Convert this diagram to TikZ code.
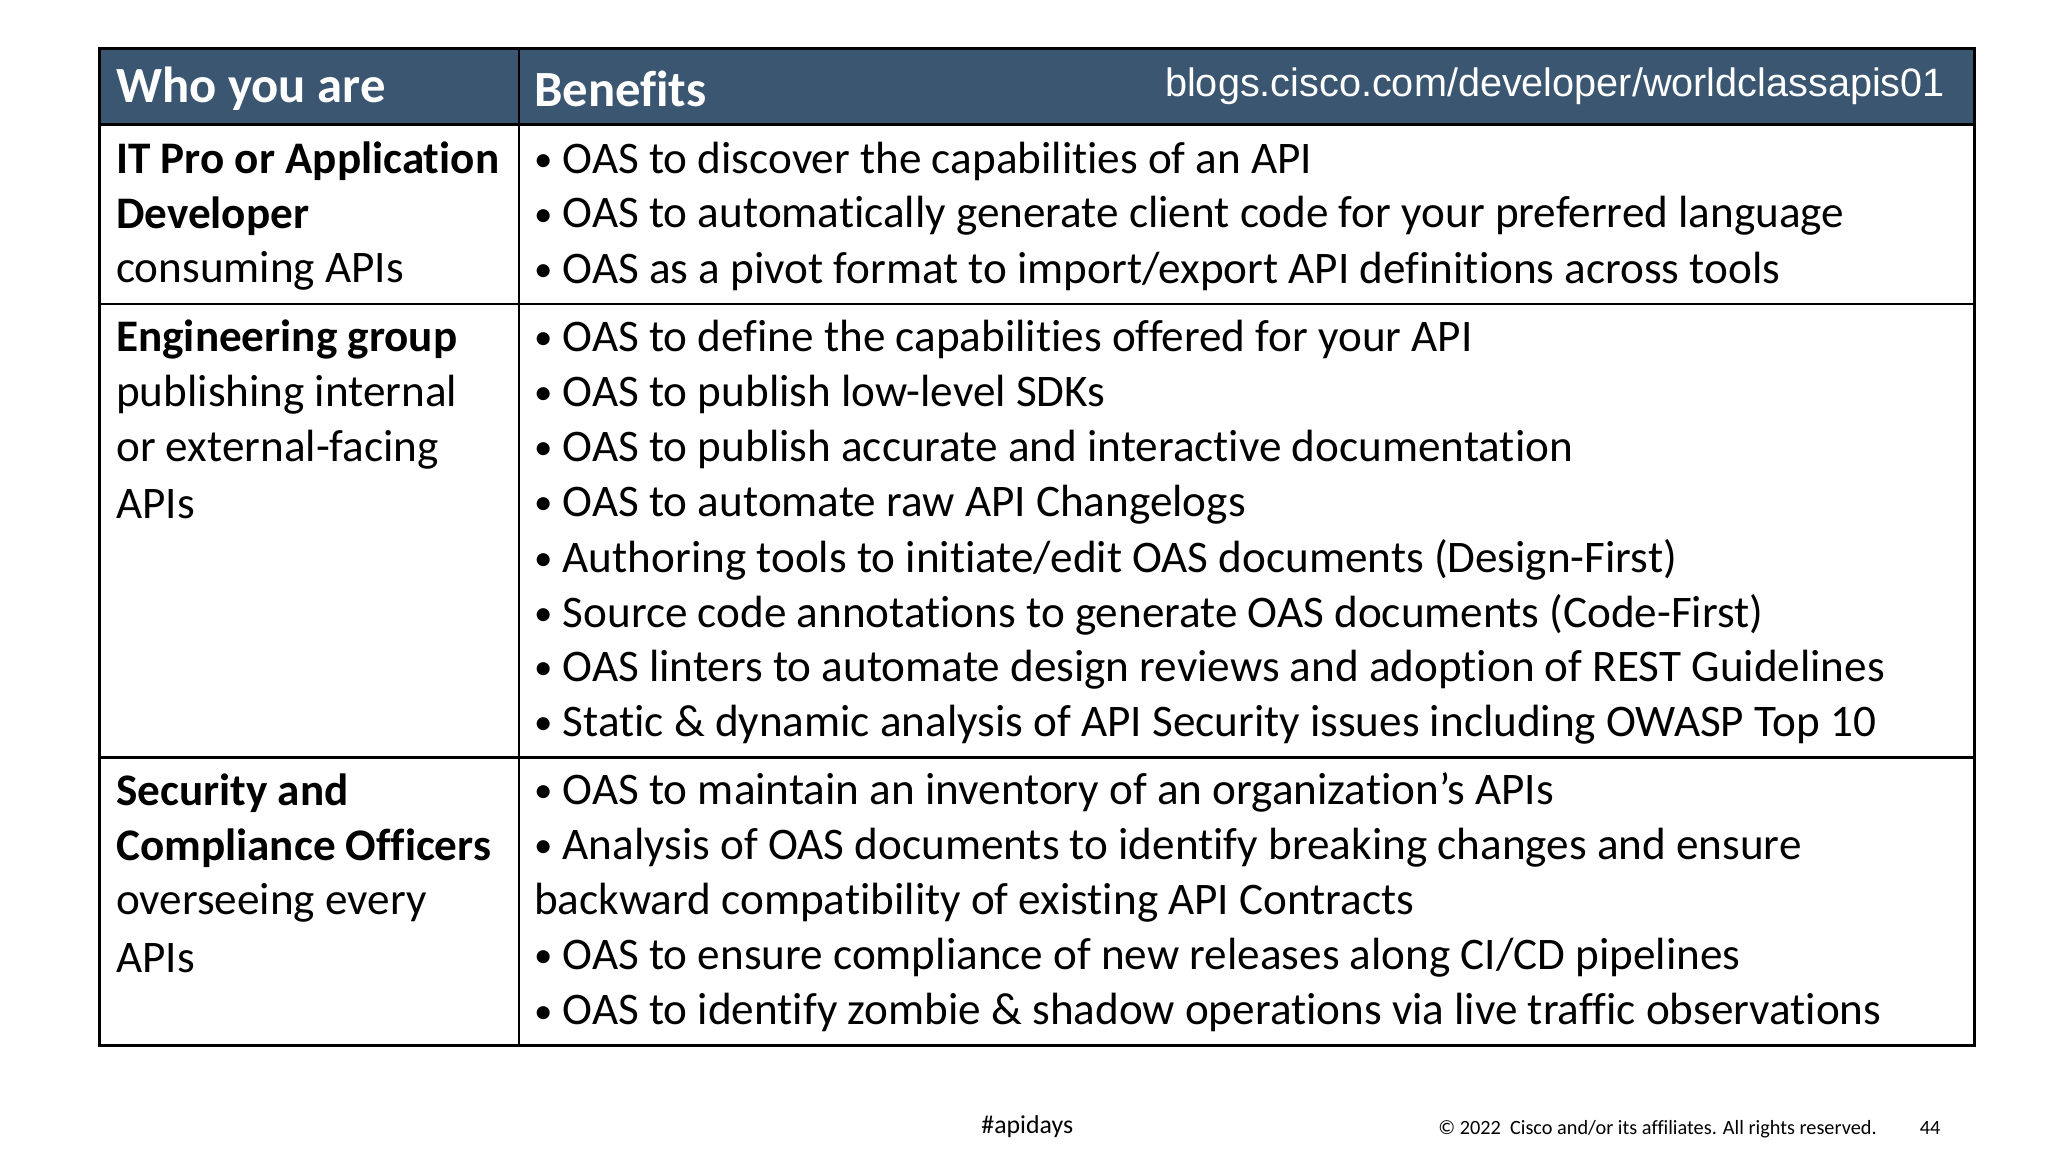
\documentclass[tikz,border=0pt]{standalone}
\usepackage{fontspec}
\setmainfont[Ligatures=NoCommon]{Carlito}
\newfontfamily\arialf{Liberation Sans}
\definecolor{hdr}{HTML}{3B5670}
\newcommand{\bul}{{\fontsize{8}{10}\selectfont\raisebox{0.1ex}{•}}\ }
\tikzset{
  cell/.style={anchor=west,inner sep=0pt,font=\fontsize{9.8}{12}\selectfont},
  bcell/.style={anchor=west,inner sep=0pt,font=\fontsize{9.8}{12}\selectfont\bfseries},
  hcell/.style={anchor=west,inner sep=0pt,text=white,font=\fontsize{11}{13}\selectfont\bfseries},
  grid/.style={line width=0.55pt,draw=black},
  foot/.style={inner sep=0pt,font=\fontsize{4.4}{6}\selectfont}
}
\begin{document}
\begin{tikzpicture}[x=0.01cm,y=-0.01cm]
\useasboundingbox[fill=white] (0,0) rectangle (1563,880);
\fill[hdr] (76,37) rectangle (1507,95);
\draw[grid] (76,37) rectangle (1507,798);
\draw[grid] (76,95) -- (1507,95);
\draw[grid] (76,232) -- (1507,232);
\draw[grid] (76,578) -- (1507,578);
\draw[grid] (396,37) -- (396,798);
\node[hcell] (h1) at (88,68) {Who you are};
\node[hcell] (h2) at (407,68) {Benefits};
\node[anchor=east,inner sep=0pt,text=white,font=\arialf\fontsize{8.6}{11}\selectfont] (url) at (1485,66) {blogs.cisco.com/developer/worldclassapis01};
% row 1
\node[bcell] (a1) at (88,123) {IT Pro or Application};
\node[bcell] (a2) at (88,165) {Developer};
\node[cell] (a3) at (88,207) {consuming APIs};
\node[cell] (b1) at (407,123) {\bul OAS to discover the capabilities of an API};
\node[cell] (b2) at (407,165) {\bul OAS to automatically generate client code for your preferred language};
\node[cell] (b3) at (407,207) {\bul OAS as a pivot format to import/export API definitions across tools};
% row 2
\node[bcell] (c1) at (88,259) {Engineering group};
\node[cell] (c2) at (88,301) {publishing internal};
\node[cell] (c3) at (88,343) {or external-facing};
\node[cell] (c4) at (88,385) {APIs};
\node[cell] (d1) at (407,259) {\bul OAS to define the capabilities offered for your API};
\node[cell] (d2) at (407,301) {\bul OAS to publish low-level SDKs};
\node[cell] (d3) at (407,343) {\bul OAS to publish accurate and interactive documentation};
\node[cell] (d4) at (407,385) {\bul OAS to automate raw API Changelogs};
\node[cell] (d5) at (407,427) {\bul Authoring tools to initiate/edit OAS documents (Design-First)};
\node[cell] (d6) at (407,469) {\bul Source code annotations to generate OAS documents (Code-First)};
\node[cell] (d7) at (407,511) {\bul OAS linters to automate design reviews and adoption of REST Guidelines};
\node[cell] (d8) at (407,553) {\bul Static \& dynamic analysis of API Security issues including OWASP Top 10};
% row 3
\node[bcell] (e1) at (88,605) {Security and};
\node[bcell] (e2) at (88,647) {Compliance Officers};
\node[cell] (e3) at (88,689) {overseeing every};
\node[cell] (e4) at (88,731) {APIs};
\node[cell] (f1) at (407,605) {\bul OAS to maintain an inventory of an organization’s APIs};
\node[cell] (f2) at (407,647) {\bul Analysis of OAS documents to identify breaking changes and ensure};
\node[cell] (f3) at (407,689) {backward compatibility of existing API Contracts};
\node[cell] (f4) at (407,731) {\bul OAS to ensure compliance of new releases along CI/CD pipelines};
\node[cell] (f5) at (407,773) {\bul OAS to identify zombie \& shadow operations via live traffic observations};
% footer
\node[inner sep=0pt,font=\fontsize{5.6}{7}\selectfont] (tag) at (784,860) {\#apidays};
\node[foot,anchor=west] (copy) at (1097,862) {© 2022\ \ Cisco and/or its affiliates. All rights reserved.};
\node[foot] (pg) at (1473,861) {44};
\end{tikzpicture}
\end{document}
